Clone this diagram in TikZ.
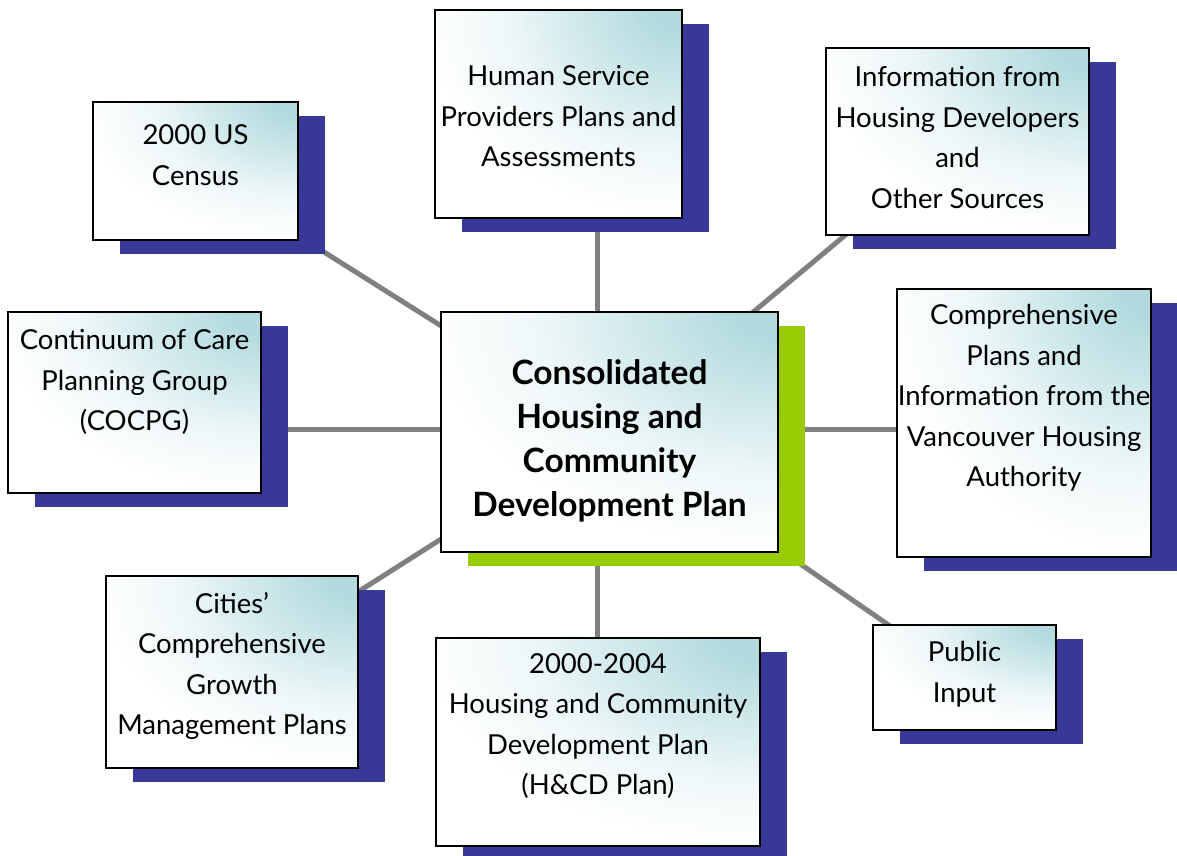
\documentclass[tikz,border=0pt]{standalone}
\usepackage{fontspec}
\setmainfont{Lato}
\usetikzlibrary{shadows,backgrounds,calc}

\definecolor{boxteal}{HTML}{B3DBDF}
\definecolor{shadowblue}{HTML}{383898}
\definecolor{shadowgreen}{HTML}{99CC00}
\definecolor{linkgray}{HTML}{808080}

% teal glow spreading out from the upper-right corner of every box
\pgfdeclareradialshading{cornerwash}{\pgfpointorigin}{%
  color(0bp)=(boxteal); color(3bp)=(boxteal); color(10bp)=(boxteal!62!white);
  color(17bp)=(boxteal!22!white); color(25bp)=(white); color(50bp)=(white)}

\tikzset{
  panel/.style={rectangle, draw=black, line width=2pt, fill=white, inner sep=0pt,
    path picture={
      \path let \p1=($(path picture bounding box.north east)-(path picture bounding box.south west)$) in
        [shading=cornerwash] (path picture bounding box.north east)
        ellipse [x radius={1.05*\x1}, y radius={1.0*abs(\y1)}];
    },
    general shadow={fill=#1, shadow xshift=27pt, shadow yshift=-14pt}},
  panel/.default=shadowblue,
  caption/.style={align=center, inner sep=0pt,
    font=\fontsize{27.5}{40.5}\selectfont},
  link/.style={draw=linkgray, line width=5pt},
}

\begin{document}
\begin{tikzpicture}[x=1pt, y=-1pt]
\useasboundingbox (0,0) rectangle (1177,855);

% hub
\node[panel=shadowgreen, minimum width=337pt, minimum height=240pt] (hub) at (609.5,432) {};
\node[caption, font=\fontsize{33.5}{44}\selectfont\bfseries] (hubT) at ([yshift=-9pt]hub.center)
  {Consolidated\\Housing and\\Community\\Development Plan};

% surrounding sources
\node[panel, minimum width=205pt, minimum height=138pt] (census) at (195.5,171) {};
\node[caption] (censusT) at ([yshift=16pt]census.center) {2000 US\\Census};

\node[panel, minimum width=247pt, minimum height=208pt] (human) at (558.5,114) {};
\node[caption] (humanT) at ([yshift=-2.5pt]human.center) {Human Service\\Providers Plans and\\Assessments};

\node[panel, minimum width=263pt, minimum height=187pt] (devs) at (957.5,141.5) {};
\node[caption] (devsT) at ([yshift=4pt]devs.center) {Information from\\Housing Developers\\and\\Other Sources};

\node[panel, minimum width=253pt, minimum height=181pt] (coc) at (134.5,402.5) {};
\node[caption] (cocT) at ([yshift=20.5pt]coc.center) {Continuum of Care\\Planning Group\\(COCPG)};

\node[panel, minimum width=254pt, minimum height=268pt] (vha) at (1024,423) {};
\node[caption] (vhaT) at ([yshift=25pt]vha.center) {Comprehensive\\Plans and\\Information from the\\Vancouver Housing\\Authority};

\node[panel, minimum width=252pt, minimum height=192pt] (cities) at (232,672) {};
\node[caption] (citiesT) at ([yshift=6pt]cities.center) {Cities’\\Comprehensive\\Growth\\Management Plans};

\node[panel, minimum width=324pt, minimum height=208pt] (hcd) at (598,742) {};
\node[caption] (hcdT) at ([yshift=16pt]hcd.center) {2000-2004\\Housing and Community\\Development Plan\\(H\&CD Plan)};

\node[panel, minimum width=183pt, minimum height=105pt] (pub) at (964.5,677.5) {};
\node[caption] (pubT) at ([yshift=3.5pt]pub.center) {Public\\Input};

% spokes, kept behind the boxes and their shadows
\begin{scope}[on background layer]
  \draw[link] (census.center) -- (hub.center);
  \draw[link] (devs.center) -- (hub.center);
  \draw[link] (pub.center) -- (hub.center);
  \draw[link] (cities.center) -- (hub.center);
  \draw[link] ([xshift=-12.5pt]hub.center) -- ([xshift=-12.5pt]hub.center |- human.center);
  \draw[link] ([xshift=-12.5pt]hub.center) -- ([xshift=-12.5pt]hub.center |- hcd.center);
  \draw[link] ([yshift=3pt]hub.center) -- ([yshift=3pt]hub.center -| coc.center);
  \draw[link] ([yshift=3pt]hub.center) -- ([yshift=3pt]hub.center -| vha.center);
\end{scope}
\end{tikzpicture}
\end{document}
